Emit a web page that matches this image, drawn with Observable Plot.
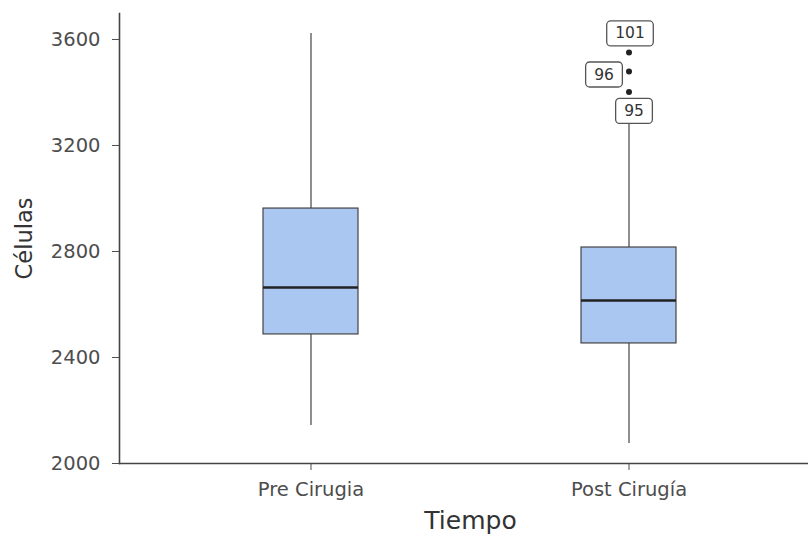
<!DOCTYPE html>
<html>
<head>
<meta charset="utf-8">
<script src="https://cdn.jsdelivr.net/npm/d3@7"></script>
<script src="https://cdn.jsdelivr.net/npm/@observablehq/plot@0.6"></script>
<style>
  html, body { margin: 0; padding: 0; background: #fff; overflow: hidden; }
</style>
</head>
<body>
<div id="chart"></div>
<script>
// ---- data ----
const categories = ["Pre Cirugia", "Post Cirugía"];
const whiskerLow  = [2143, 2075];
const q1          = [2487, 2453];
const median      = [2664, 2615];
const q3          = [2962, 2815];
const whiskerHigh = [3623, 3300];

const outlierCategory = ["Post Cirugía", "Post Cirugía", "Post Cirugía"];
const outlierValues   = [3551, 3479, 3402];
const outlierIds      = ["101", "96", "95"];
const outlierSide     = ["top", "left", "bottom"];

const yTicks = [2000, 2400, 2800, 3200, 3600];

// ---- tables built from arrays ----
const boxes = categories.map((c, i) => ({
  cat: c, lo: whiskerLow[i], q1: q1[i], med: median[i], q3: q3[i], hi: whiskerHigh[i]
}));
const outliers = outlierValues.map((v, i) => ({
  cat: outlierCategory[i], value: v, id: outlierIds[i], side: outlierSide[i]
}));

const W = 808, H = 537;
const mL = 119, mT = 13, mB = 74;
const font = "DejaVu Sans";
const sideOffset = { top: [1, -19], left: [-25, 3], bottom: [5, 19] };

const labelMarks = Object.keys(sideOffset).map(side =>
  Plot.text(outliers.filter(d => d.side === side), {
    x: "cat", y: "value", text: "id",
    dx: sideOffset[side][0], dy: sideOffset[side][1],
    fontSize: 15.5, fontFamily: font, fill: "#333",
    textAnchor: "middle", lineAnchor: "middle",
    ariaLabel: () => "outlier-label"
  })
);

const chart = Plot.plot({
  width: W, height: H,
  marginLeft: mL, marginRight: 0, marginTop: mT, marginBottom: mB,
  style: { fontFamily: font, fontSize: "19.5px", background: "#fff" },
  x: { type: "band", domain: categories, range: [mL, W + 12], paddingInner: 0.7, paddingOuter: 0.45 },
  y: { domain: [2000, 3698] },
  marks: [
    Plot.ruleX(boxes, { x: "cat", y1: "lo", y2: "q1", stroke: "#444", strokeWidth: 1.2 }),
    Plot.ruleX(boxes, { x: "cat", y1: "q3", y2: "hi", stroke: "#444", strokeWidth: 1.2 }),
    Plot.barY(boxes, { x: "cat", y1: "q1", y2: "q3", fill: "#aac7f1", stroke: "#444", strokeWidth: 1.2 }),
    Plot.tickY(boxes, { x: "cat", y: "med", stroke: "#222", strokeWidth: 2.6 }),
    Plot.dot(outliers, { x: "cat", y: "value", r: 3, fill: "#222", stroke: "none" }),
    ...labelMarks,
    Plot.axisY({ ticks: yTicks, tickFormat: d3.format("d"), tickSize: 7, tickPadding: 12, color: "#4d4d4d", label: null, fontSize: 19.5 }),
    Plot.axisX({ tickSize: 7, tickPadding: 12, color: "#4d4d4d", label: null, fontSize: 19.5 }),
    Plot.frame({ anchor: "left", stroke: "#444", strokeWidth: 1.6 }),
    Plot.frame({ anchor: "bottom", stroke: "#444", strokeWidth: 1.6 }),
    Plot.text(["Células"], { frameAnchor: "left", dx: -95, rotate: -90, fontSize: 22.5, fill: "#333",
      textAnchor: "middle", lineAnchor: "middle" }),
    Plot.text(["Tiempo"], { frameAnchor: "bottom", dx: 6.5, dy: 48, fontSize: 25, fill: "#333",
      textAnchor: "middle", lineAnchor: "top" })
  ]
});

document.getElementById("chart").appendChild(chart);

// draw rounded boxes behind outlier labels
const labelTexts = Array.from(chart.querySelectorAll("text")).filter(t =>
  t.getAttribute("aria-label") === "outlier-label" ||
  (t.parentNode && t.parentNode.getAttribute && t.parentNode.getAttribute("aria-label") === "outlier-label"));
labelTexts.forEach(t => {
  const b = t.getBBox();
  const px = 8.5, py = 3.5;
  const r = document.createElementNS("http://www.w3.org/2000/svg", "rect");
  r.setAttribute("x", b.x - px);
  r.setAttribute("y", b.y - py);
  r.setAttribute("width", b.width + 2 * px);
  r.setAttribute("height", b.height + 2 * py);
  r.setAttribute("rx", 4);
  r.setAttribute("fill", "#fff");
  r.setAttribute("stroke", "#555");
  r.setAttribute("stroke-width", 1.3);
  if (t.getAttribute("transform")) r.setAttribute("transform", t.getAttribute("transform"));
  t.parentNode.insertBefore(r, t);
});
</script>
</body>
</html>
